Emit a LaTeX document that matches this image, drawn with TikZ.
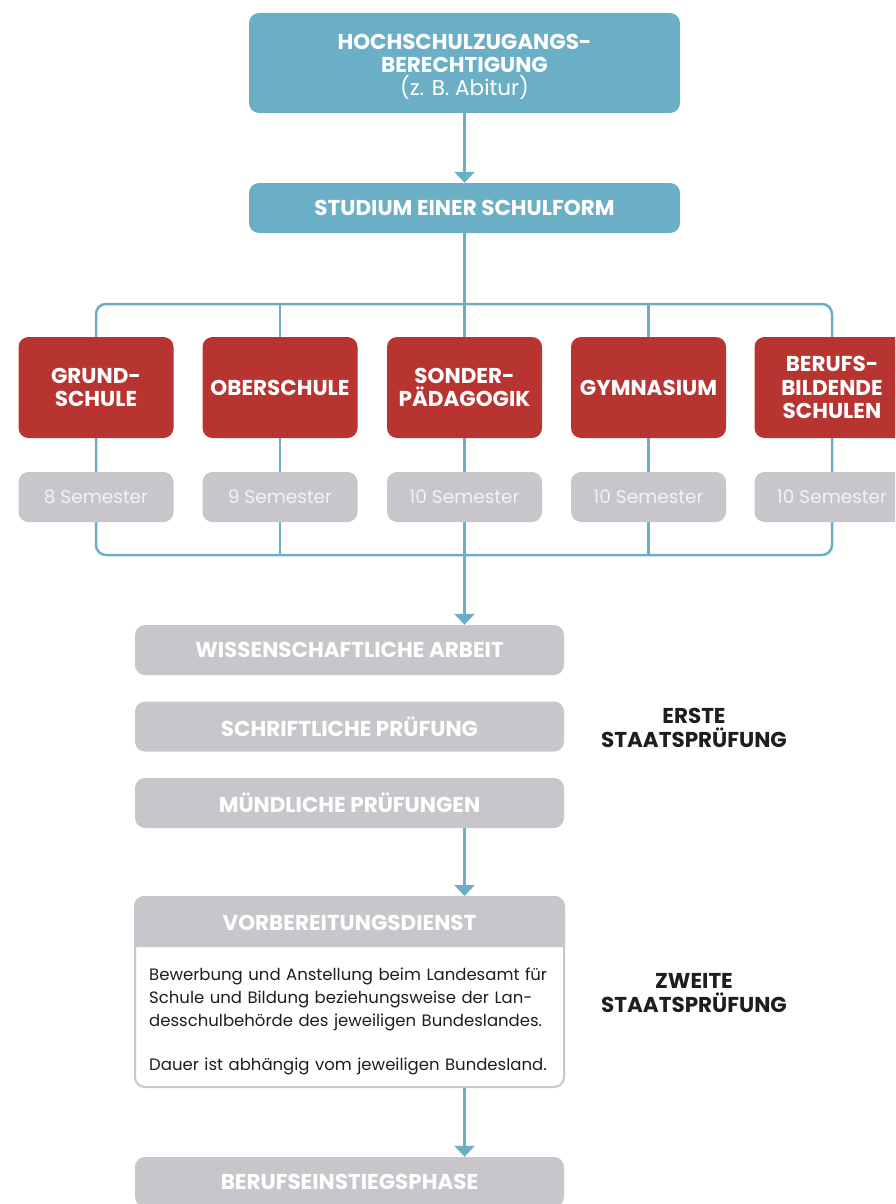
\documentclass[tikz,border=0pt]{standalone}
\usepackage{fontspec}
\setmainfont{Poppins}
\usetikzlibrary{arrows.meta,backgrounds}
\definecolor{blau}{HTML}{6BAFC7}
\definecolor{rot}{HTML}{B83431}
\definecolor{grau}{HTML}{C8C6CB}
\definecolor{hellgrau}{HTML}{F2F2F4}
\definecolor{dunkel}{HTML}{1E1E1E}
\tikzset{
  kasten/.style={rounded corners=10pt, inner sep=0pt, align=center, text=white,
    font=\bfseries\fontsize{21.5}{23.5}\selectfont},
  blaubox/.style={kasten, fill=blau, minimum width=431pt, minimum height=50pt},
  rotbox/.style={kasten, fill=rot, minimum width=155pt, minimum height=101pt},
  sembox/.style={kasten, fill=grau, minimum width=155pt, minimum height=50pt,
    text=hellgrau, font=\fontsize{18.5}{22}\selectfont},
  graubox/.style={kasten, fill=grau, minimum width=429pt, minimum height=50pt},
  verbinder/.style={draw=blau, line width=2.5pt},
  pfeil/.style={verbinder, -{Triangle[width=20pt,length=11pt]}},
  staats/.style={align=center, text=dunkel, font=\bfseries\fontsize{21.5}{23.5}\selectfont}
}
\begin{document}
\begin{tikzpicture}[x=1pt,y=-1pt]
\useasboundingbox (0,0) rectangle (895,1204);
\clip (0,0) rectangle (895,1204);

% Zugang und Studium
\node[blaubox, minimum height=100pt] (hzb) at (464.5,63)
  {\rule{0pt}{23pt}HOCHSCHULZUGANGS-\\BERECHTIGUNG\\{\mdseries (z. B. Abitur)}};
\node[blaubox] (studium) at (464.5,208) {STUDIUM EINER SCHULFORM};

% Schulformen
\node[rotbox] (grund) at (96,387.5) {GRUND-\\SCHULE};
\node[rotbox] (ober) at (280,387.5) {OBERSCHULE};
\node[rotbox] (sonder) at (464.5,387.5) {SONDER-\\PÄDAGOGIK};
\node[rotbox] (gym) at (648.5,387.5) {GYMNASIUM};
\node[rotbox] (berufs) at (832,387.5) {BERUFS-\\BILDENDE\\SCHULEN};

% Semester
\node[sembox] (semgrund) at (96,497) {8 Semester};
\node[sembox] (semober) at (280,497) {9 Semester};
\node[sembox] (semsonder) at (464.5,497) {10 Semester};
\node[sembox] (semgym) at (648.5,497) {10 Semester};
\node[sembox] (semberufs) at (832,497) {10 Semester};

% Erste Staatsprüfung
\node[graubox] (wiss) at (349.5,650) {WISSENSCHAFTLICHE ARBEIT};
\node[graubox] (schrift) at (349.5,726.5) {SCHRIFTLICHE PRÜFUNG};
\node[graubox] (muend) at (349.5,803) {MÜNDLICHE PRÜFUNGEN};
\node[staats] (erste) at (694,728) {ERSTE\\STAATSPRÜFUNG};

% Zweite Staatsprüfung
\node[draw=grau, line width=2pt, fill=white, rounded corners=10pt,
  minimum width=429pt, minimum height=190pt, inner sep=0pt] (vorb) at (349.5,992) {};
\fill[grau] (vorb.west |- 0,947) [rounded corners=10pt] -- (vorb.north west)
  -- (vorb.north east) [sharp corners] -- (vorb.east |- 0,947) -- cycle;
\node[kasten] (vorbkopf) at (349.5,923) {VORBEREITUNGSDIENST};
\node[text width=410pt, align=left, inner sep=0pt, text=dunkel,
  font=\fontsize{16.5}{23}\selectfont, anchor=north west] (vorbtext) at (149,968)
  {Bewerbung und Anstellung beim Landesamt für\\
   Schule und Bildung beziehungsweise der Lan-\\
   desschulbehörde des jeweiligen Bundeslandes.\\[21pt]
   Dauer ist abhängig vom jeweiligen Bundesland.};
\node[staats] (zweite) at (694,993) {ZWEITE\\STAATSPRÜFUNG};

% Berufseinstieg
\node[graubox] (einstieg) at (349.5,1182) {BERUFSEINSTIEGSPHASE};

% Verbindungen
\coordinate (rahmenoben) at (0,304);
\coordinate (rahmenunten) at (0,555);
\begin{scope}[on background layer]
\draw[verbinder, rounded corners=10pt] (grund.north |- rahmenoben) rectangle (berufs.north |- rahmenunten);
\draw[verbinder] (ober.north |- rahmenoben) -- (ober.south |- rahmenunten);
\draw[verbinder] (gym.north |- rahmenoben) -- (gym.south |- rahmenunten);
\draw[pfeil] (hzb) -- (studium);
\draw[pfeil] (studium) -- (studium.south |- wiss.north);
\end{scope}
\draw[pfeil] (studium.south |- muend.south) -- (studium.south |- vorb.north);
\draw[pfeil] (studium.south |- vorb.south) -- (studium.south |- einstieg.north);
\end{tikzpicture}
\end{document}
